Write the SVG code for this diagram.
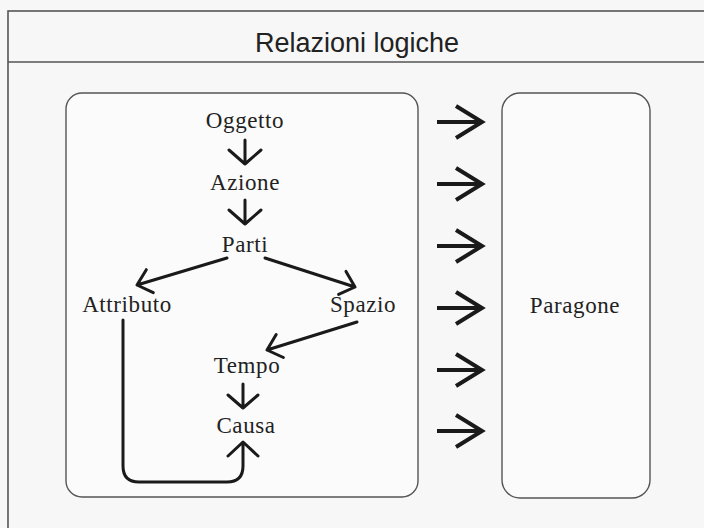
<svg xmlns="http://www.w3.org/2000/svg" width="704" height="528" viewBox="0 0 704 528">
<style>
.frame{fill:none;stroke:#555;stroke-width:1.6}
.box{fill:#fbfbfb;stroke:#555;stroke-width:1.4}
.lbl{font-family:"Liberation Serif","Times New Roman",serif;font-size:23px;fill:#222;text-anchor:middle;letter-spacing:0.6px}
.title{font-family:"Liberation Sans",Arial,sans-serif;font-size:27px;fill:#222;text-anchor:middle}
.ln{fill:none;stroke:#1a1a1a;stroke-width:3;stroke-linecap:round;stroke-linejoin:round}
.big{fill:none;stroke:#1a1a1a;stroke-width:4;stroke-linecap:butt;stroke-linejoin:miter}
</style>
<rect x="0" y="0" width="704" height="528" fill="#f7f7f7"/>
<g id="frame">
<rect class="frame" x="8" y="11" width="720" height="540"/>
<line class="frame" x1="8" y1="62" x2="704" y2="62"/>
<text class="title" x="357" y="52">Relazioni logiche</text>
</g>
<g id="left-box"><rect class="box" x="66" y="93" width="352" height="404" rx="16"/></g>
<g id="paragone"><rect class="box" x="502" y="93" width="148" height="405" rx="18"/><text class="lbl" x="575" y="313">Paragone</text></g>
<g id="oggetto"><text class="lbl" x="245" y="128">Oggetto</text></g>
<g id="azione"><text class="lbl" x="245" y="190">Azione</text></g>
<g id="parti"><text class="lbl" x="245" y="252">Parti</text></g>
<g id="attributo"><text class="lbl" x="127" y="312">Attributo</text></g>
<g id="spazio"><text class="lbl" x="363" y="312">Spazio</text></g>
<g id="tempo"><text class="lbl" x="247" y="373">Tempo</text></g>
<g id="causa"><text class="lbl" x="246" y="433">Causa</text></g>
<g id="connectors">
<path class="ln" d="M245,140 V164 M229,150 L245,164 L261,150"/>
<path class="ln" d="M245,200 V224 M229,210 L245,224 L261,210"/>
<path class="ln" d="M227,258 L137,285 M153.3,292.7 L137,285 L146.3,269.7"/>
<path class="ln" d="M265,258 L355,287 M338.6,294.4 L355,287 L346,271.4"/>
<path class="ln" d="M357,322 L267,350 M283.4,357.5 L267,350 L276.2,334.5"/>
<path class="ln" d="M243,384 V408 M228,395 L243,408 L258,395"/>
<path class="ln" d="M123,320 V466 Q123,482 139,482 H227 Q243,482 243,466 V443 M228,456 L243,442 L258,456"/>
<g id="compare-arrows">
<path class="big" d="M437,122 H481 M456,106 L482,122 L456,138"/>
<path class="big" d="M437,184 H481 M456,168 L482,184 L456,200"/>
<path class="big" d="M437,246 H481 M456,230 L482,246 L456,262"/>
<path class="big" d="M437,308 H481 M456,292 L482,308 L456,324"/>
<path class="big" d="M437,370 H481 M456,354 L482,370 L456,386"/>
<path class="big" d="M437,431 H481 M456,415 L482,431 L456,447"/>
</g>
</g>
</svg>
